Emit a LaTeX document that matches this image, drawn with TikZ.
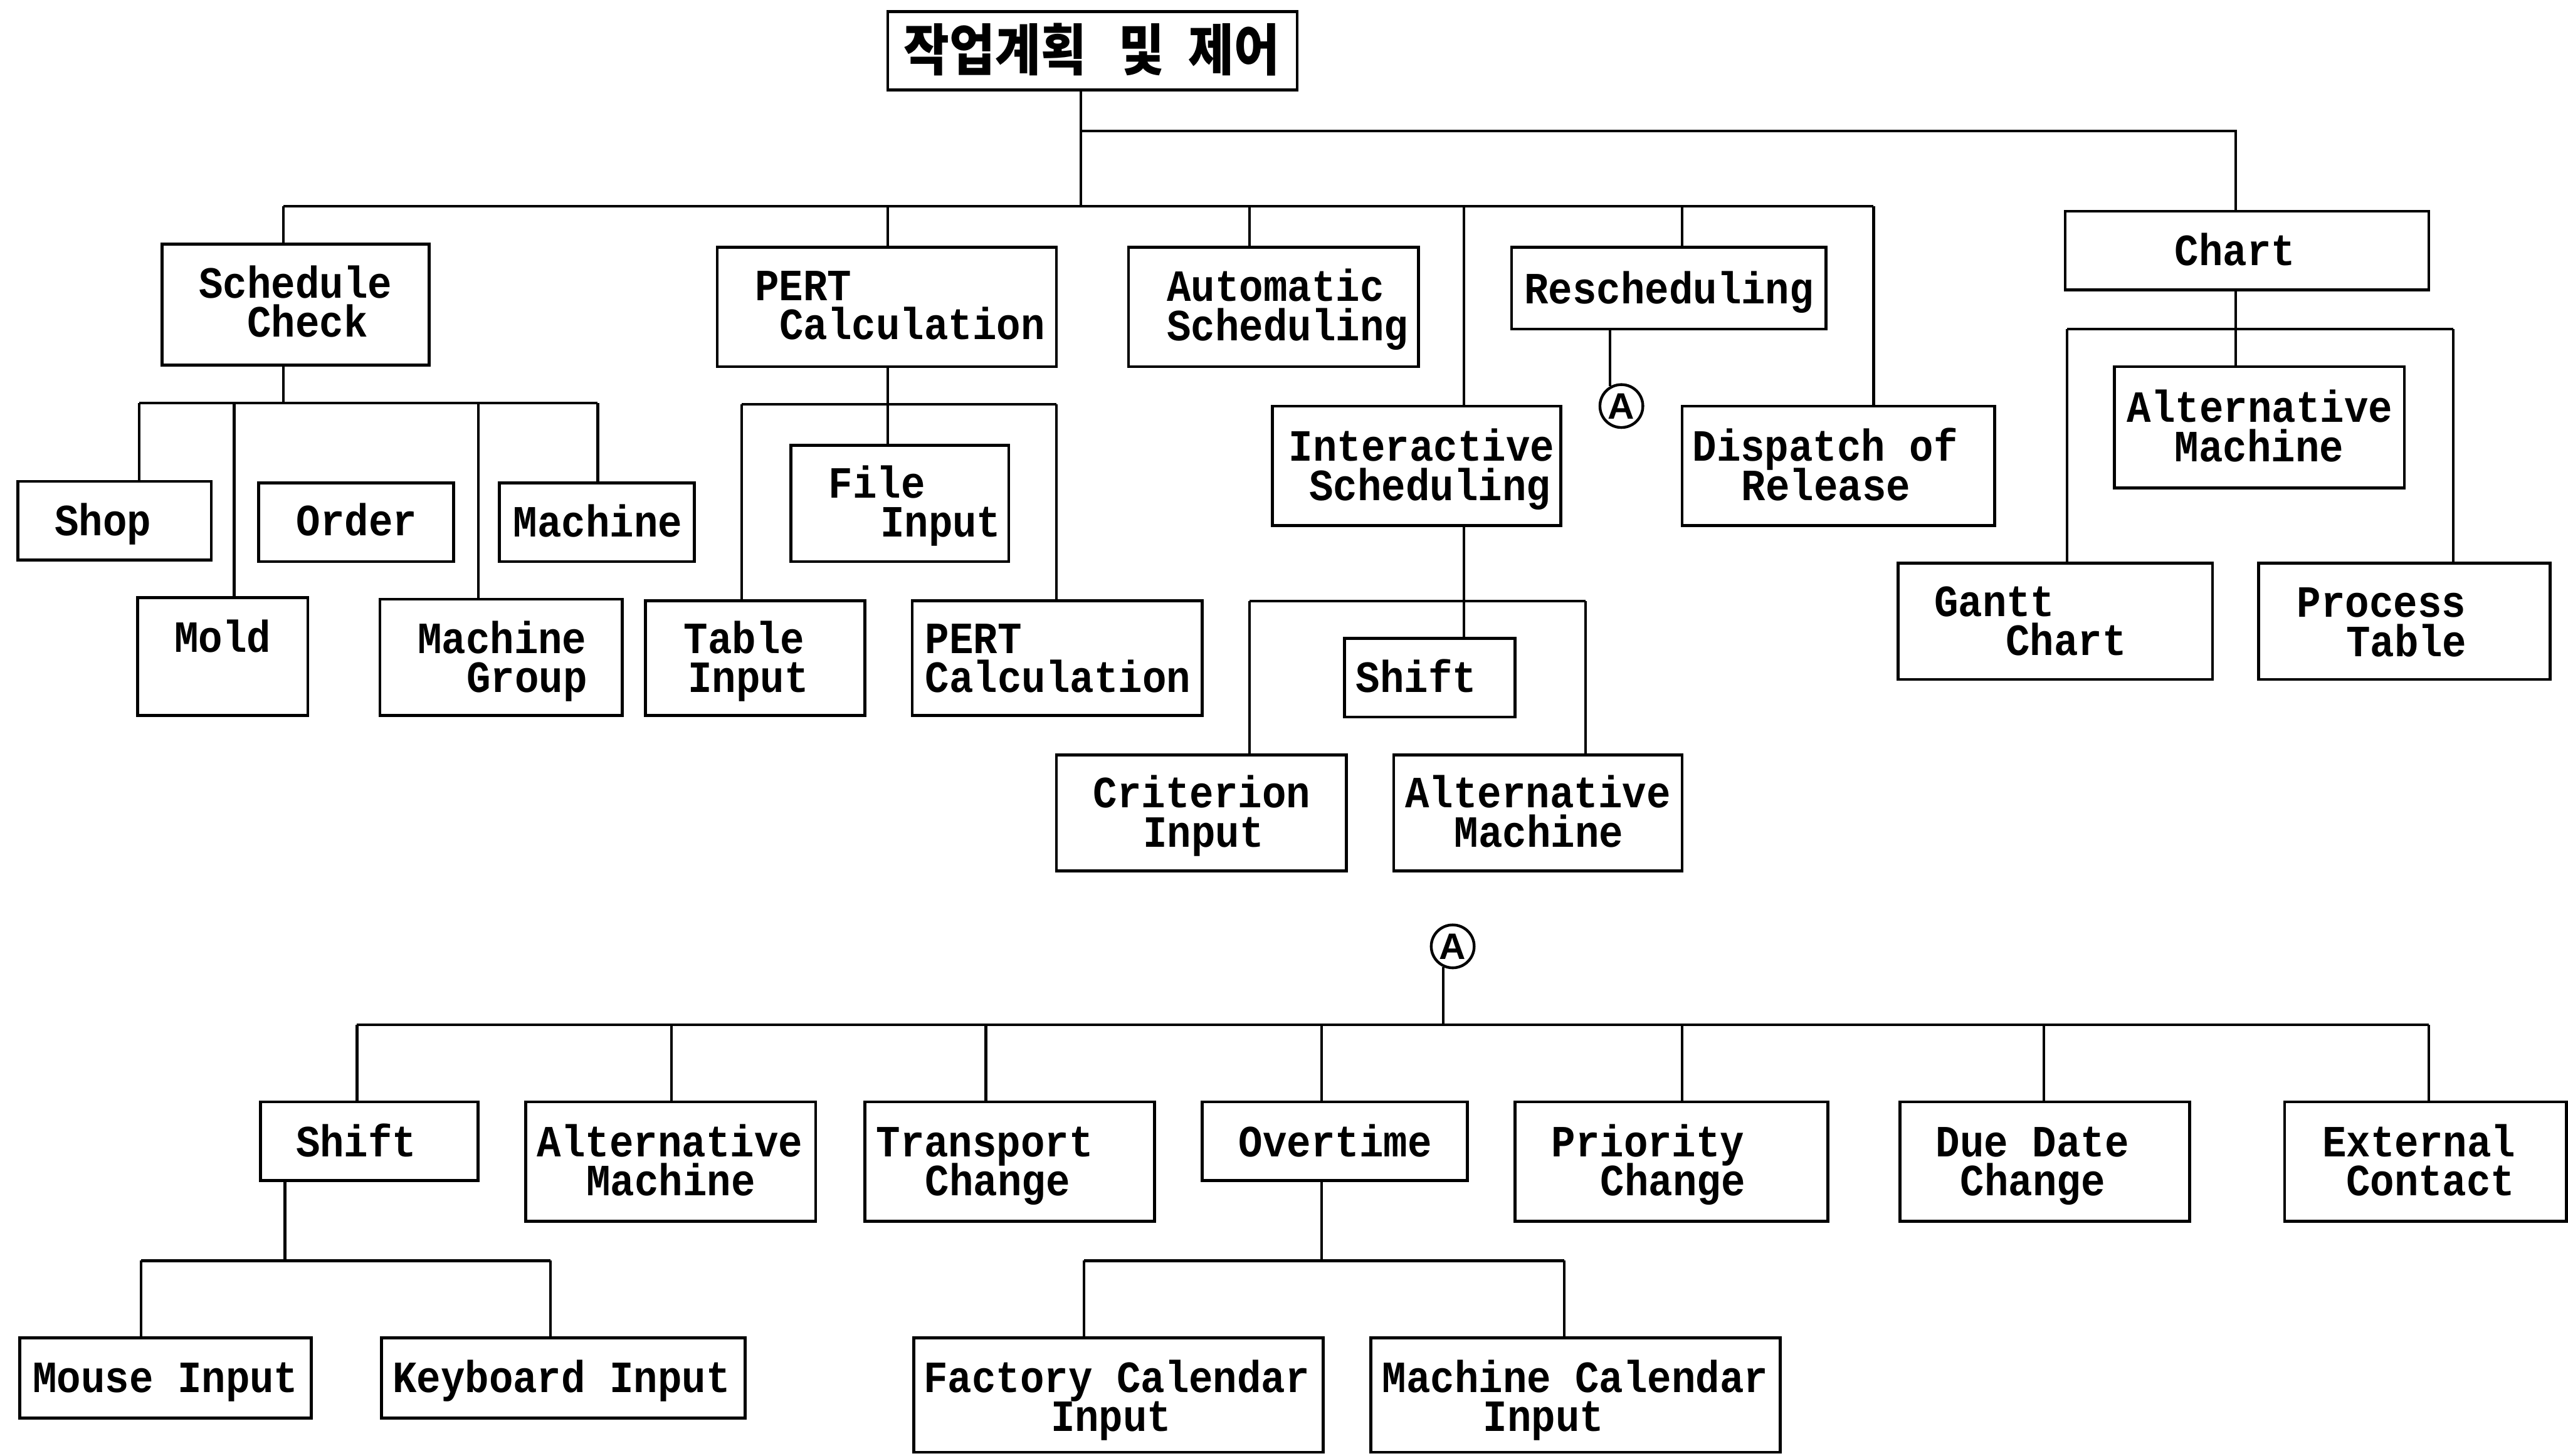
\documentclass[tikz,border=0pt]{standalone}
\usepackage{fontspec}
\usetikzlibrary{fit}
\newfontfamily\monofont{Liberation Mono}[FakeStretch=0.9]
\newfontfamily\krfont{Noto Sans CJK KR}[FakeStretch=0.89]
\newfontfamily\markfont{Liberation Sans}
\newlength\pxu
\setlength\pxu{1.4226pt}
\tikzset{
  box/.style={draw, rectangle, line width=2.5pt, inner sep=0pt, outer sep=0pt},
  wire/.style={line width=2.3pt},
  txt/.style={inner sep=0pt, outer sep=0pt, anchor=base west,
    font=\monofont\bfseries\fontsize{38.8}{34}\selectfont},
  krtxt/.style={inner sep=0pt, outer sep=0pt, anchor=base west,
    font=\krfont\bfseries\fontsize{48.4}{48}\selectfont},
  conn/.style={draw, circle, line width=2.4pt, minimum size=1.31cm, inner sep=0pt,
    font=\markfont\bfseries\fontsize{32}{32}\selectfont},
}
% a box from its corners
\newcommand\mkbox[5]{\node[box, fit={(#2,#3) (#4,#5)}] (#1) {};}
% one-line label, placed at the start of its baseline
\newcommand\mktext[4]{\node[txt] (#1) at (#2,#3) {#4};}
% two-line label: first line at the baseline start, second indented by #5 px
\newcommand\mktwo[6]{\node[txt] (#1) at (#2,#3)
  {\vtop{\lineskiplimit=-100pt\hbox{#4}\hbox{\kern#5\pxu #6}}};}
\newcommand\dropto[2]{\draw[wire] (#1) -- (#1 |- #2.north);}
\newcommand\stemfrom[2]{\draw[wire] (#1 |- #2.south) -- (#1);}
\begin{document}
\begin{tikzpicture}[x=0.05cm, y=-0.05cm]
\useasboundingbox (0,0) rectangle (1568,889);

% ---------- boxes ----------
\mkbox{root}{542}{7}{792}{55}
\mkbox{sc}{99}{149}{262}{223}
\mkbox{pert}{438}{151}{645}{224}
\mkbox{auto}{689}{151}{866}{224}
\mkbox{resch}{923}{151}{1115}{201}
\mkbox{inter}{777}{248}{953}{321}
\mkbox{disp}{1027}{248}{1218}{321}
\mkbox{chart}{1261}{129}{1483}{177}
\mkbox{shop}{11}{294}{129}{342}
\mkbox{order}{158}{295}{277}{343}
\mkbox{mach}{305}{295}{424}{343}
\mkbox{filein}{483}{272}{616}{343}
\mkbox{mold}{84}{365}{188}{437}
\mkbox{mgroup}{232}{366}{380}{437}
\mkbox{table}{394}{367}{528}{437}
\mkbox{pertb}{557}{367}{734}{437}
\mkbox{shifta}{821}{390}{925}{438}
\mkbox{crit}{645}{461}{822}{532}
\mkbox{altma}{851}{461}{1027}{532}
\mkbox{altmb}{1291}{224}{1468}{298}
\mkbox{gantt}{1159}{344}{1351}{415}
\mkbox{proc}{1379}{344}{1557}{415}
\mkbox{shiftb}{159}{673}{292}{721}
\mkbox{altmc}{321}{673}{498}{746}
\mkbox{trans}{528}{673}{705}{746}
\mkbox{over}{734}{673}{896}{721}
\mkbox{prio}{925}{673}{1116}{746}
\mkbox{due}{1160}{673}{1337}{746}
\mkbox{ext}{1395}{673}{1567}{746}
\mkbox{mouse}{12}{817}{190}{866}
\mkbox{keyb}{233}{817}{455}{866}
\mkbox{fact}{558}{817}{808}{887}
\mkbox{mcal}{837}{817}{1087}{887}

% ---------- texts ----------
\node[krtxt] (root-t) at (552,43) {작업계획\hspace{28pt}및\hspace{21pt}제어};
\mktwo{sc-t}{121.5}{182}{Schedule}{29.5}{Check}
\mktwo{pert-t}{461}{183.5}{PERT}{15}{Calculation}
\mktwo{auto-t}{712.5}{184}{Automatic}{0}{Scheduling}
\mktext{resch-t}{930.7}{185.4}{Rescheduling}
\mktwo{inter-t}{787}{281.6}{Interactive}{12.5}{Scheduling}
\mktwo{disp-t}{1033.4}{281.6}{Dispatch of}{30}{Release}
\mktext{chart-t}{1327.9}{162}{Chart}
\mktext{shop-t}{33.5}{327}{Shop}
\mktext{order-t}{181}{327}{Order}
\mktext{mach-t}{313.5}{327.7}{Machine}
\mktwo{filein-t}{506}{304}{File}{31.5}{Input}
\mktext{mold-t}{106.5}{398.5}{Mold}
\mktwo{mgroup-t}{255}{399}{Machine}{30}{Group}
\mktwo{table-t}{417.5}{399}{Table}{2.5}{Input}
\mktwo{pertb-t}{565}{399}{PERT}{0}{Calculation}
\mktext{shifta-t}{828}{423}{Shift}
\mktwo{crit-t}{667.6}{493.3}{Criterion}{30.4}{Input}
\mktwo{altma-t}{858}{493.3}{Alternative}{30}{Machine}
\mktwo{altmb-t}{1298.8}{258}{Alternative}{29.1}{Machine}
\mktwo{gantt-t}{1181}{376.4}{Gantt}{43.7}{Chart}
\mktwo{proc-t}{1402.5}{377}{Process}{30}{Table}
\mktext{shiftb-t}{180.7}{706.3}{Shift}
\mktwo{altmc-t}{328}{706.3}{Alternative}{30}{Machine}
\mktwo{trans-t}{535}{706.3}{Transport}{30}{Change}
\mktext{over-t}{756.4}{706.3}{Overtime}
\mktwo{prio-t}{947.3}{706.3}{Priority}{30}{Change}
\mktwo{due-t}{1182}{706.3}{Due Date}{15}{Change}
\mktwo{ext-t}{1418}{706.3}{External}{14.5}{Contact}
\mktext{mouse-t}{20}{850.3}{Mouse Input}
\mktext{keyb-t}{239.7}{850.3}{Keyboard Input}
\mktwo{fact-t}{564}{850.3}{Factory Calendar}{77.6}{Input}
\mktwo{mcal-t}{844}{850.3}{Machine Calendar}{61.7}{Input}

% ---------- off-page connectors ----------
\node[conn] (cA) at (990,248) {A};
\node[conn] (cB) at (887,578) {A};

% ---------- connectors ----------
% root to the first level
\coordinate (r0) at (660,80);
\coordinate (r1) at (660,126);
\coordinate (c0) at (1365,80);
\stemfrom{r1}{root}
\draw[wire] (r0) -- (c0) -- (c0 |- chart.north);

\coordinate (b1a) at (173,126);
\coordinate (b1b) at (542,126);
\coordinate (b1c) at (763,126);
\coordinate (b1d) at (894,126);
\coordinate (b1e) at (1027,126);
\coordinate (b1f) at (1144,126);
\draw[wire] (b1a) -- (b1f);
\dropto{b1a}{sc}
\dropto{b1b}{pert}
\dropto{b1c}{auto}
\dropto{b1d}{inter}
\dropto{b1e}{resch}
\dropto{b1f}{disp}

% Schedule Check
\coordinate (s0) at (173,246);
\coordinate (sa) at (85,246);
\coordinate (sb) at (143,246);
\coordinate (sc2) at (292,246);
\coordinate (sd) at (365,246);
\stemfrom{s0}{sc}
\draw[wire] (sa) -- (sd);
\dropto{sa}{shop}
\dropto{sb}{mold}
\dropto{sc2}{mgroup}
\dropto{sd}{mach}

% PERT Calculation
\coordinate (p0) at (542,247);
\coordinate (pa) at (453,247);
\coordinate (pb) at (645,247);
\draw[wire] (p0 |- pert.south) -- (p0 |- filein.north);
\draw[wire] (pa) -- (pb);
\dropto{pa}{table}
\dropto{pb}{pertb}

% Rescheduling
\draw[wire] (cA.120 |- resch.south) -- (cA.120);

% Interactive Scheduling
\coordinate (i0) at (894,367);
\coordinate (ia) at (763,367);
\coordinate (ib) at (968,367);
\draw[wire] (i0 |- inter.south) -- (i0 |- shifta.north);
\draw[wire] (ia) -- (ib);
\dropto{ia}{crit}
\dropto{ib}{altma}

% Chart
\coordinate (h0) at (1365,201);
\coordinate (ha) at (1262,201);
\coordinate (hb) at (1498,201);
\draw[wire] (h0 |- chart.south) -- (h0 |- altmb.north);
\draw[wire] (ha) -- (hb);
\dropto{ha}{gantt}
\dropto{hb}{proc}

% continuation A
\coordinate (qa) at (218,626);
\coordinate (qb) at (410,626);
\coordinate (qc) at (602,626);
\coordinate (qd) at (807,626);
\coordinate (qe) at (1027,626);
\coordinate (qf) at (1248,626);
\coordinate (qg) at (1483,626);
\draw[wire] (cB.245) -- (cB.245 |- qa);
\draw[wire] (qa) -- (qg);
\dropto{qa}{shiftb}
\dropto{qb}{altmc}
\dropto{qc}{trans}
\dropto{qd}{over}
\dropto{qe}{prio}
\dropto{qf}{due}
\dropto{qg}{ext}

% Shift
\coordinate (u0) at (174,770);
\coordinate (ua) at (86,770);
\coordinate (ub) at (336,770);
\stemfrom{u0}{shiftb}
\draw[wire] (ua) -- (ub);
\dropto{ua}{mouse}
\dropto{ub}{keyb}

% Overtime
\coordinate (v0) at (807,770);
\coordinate (va) at (662,770);
\coordinate (vb) at (955,770);
\stemfrom{v0}{over}
\draw[wire] (va) -- (vb);
\dropto{va}{fact}
\dropto{vb}{mcal}
\end{tikzpicture}
\end{document}
